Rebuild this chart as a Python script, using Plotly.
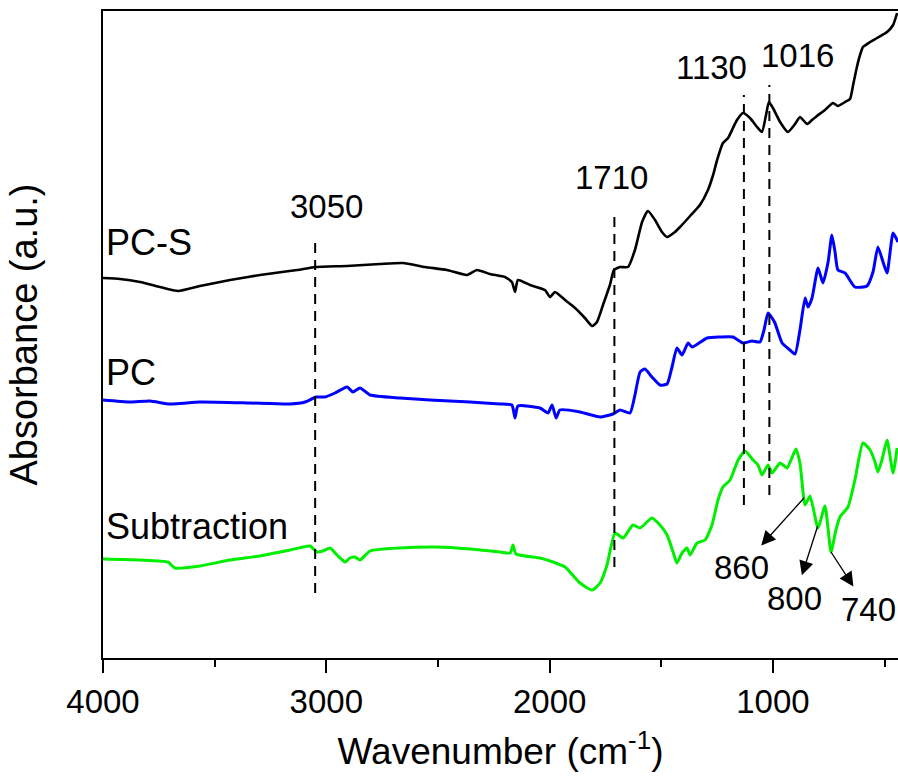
import numpy as np
import plotly.graph_objects as go

# FTIR spectra (wavenumber in cm-1, absorbance in arbitrary units, offset per sample)
pcs_wn = [4000, 3924, 3834, 3745, 3664, 3566, 3431, 3297, 3131, 3046, 2907, 2760, 2657,
          2558, 2460, 2370, 2325, 2267, 2200, 2169, 2155, 2142, 2088, 2021, 1998, 1976,
          1931, 1886, 1842, 1810, 1788, 1761, 1730, 1712, 1685, 1649, 1618, 1586, 1560,
          1528, 1497, 1474, 1439, 1416, 1371, 1327, 1291, 1268, 1250, 1224, 1201, 1179,
          1161, 1134, 1103, 1071, 1049, 1031, 1018, 1000, 968, 933, 901, 879, 847, 825,
          803, 767, 731, 709, 677, 655, 641, 624, 610, 597, 565, 534, 489, 462, 444]
pcs_abs = [3.80, 3.79, 3.76, 3.71, 3.67, 3.72, 3.78, 3.83, 3.88, 3.91, 3.92, 3.94, 3.95,
           3.91, 3.88, 3.83, 3.88, 3.84, 3.81, 3.76, 3.66, 3.78, 3.73, 3.68, 3.61, 3.66,
           3.58, 3.50, 3.40, 3.32, 3.36, 3.53, 3.73, 3.88, 3.91, 3.91, 4.08, 4.36, 4.47,
           4.38, 4.26, 4.21, 4.26, 4.31, 4.42, 4.53, 4.68, 4.83, 4.98, 5.15, 5.20, 5.30,
           5.38, 5.45, 5.40, 5.31, 5.26, 5.43, 5.56, 5.50, 5.36, 5.26, 5.34, 5.41, 5.34, 5.38,
           5.42, 5.48, 5.55, 5.52, 5.56, 5.59, 5.73, 5.91, 6.03, 6.11, 6.16, 6.20, 6.26, 6.33, 6.45]

pc_wn = [4000, 3879, 3790, 3700, 3566, 3342, 3163, 3095, 3046, 3006, 2961, 2907, 2881,
         2849, 2804, 2670, 2536, 2357, 2222, 2169, 2155, 2142, 2043, 2007, 1989, 1971,
         1954, 1864, 1774, 1716, 1685, 1640, 1618, 1595, 1573, 1542, 1506, 1474, 1452,
         1430, 1407, 1380, 1362, 1295, 1237, 1179, 1134, 1094, 1058, 1040, 1022, 1004,
         991, 959, 924, 901, 879, 856, 843, 825, 798, 776, 753, 736, 722, 709, 677, 633,
         579, 552, 530, 507, 489, 462, 440]
pc_abs = [2.58, 2.56, 2.57, 2.54, 2.56, 2.55, 2.54, 2.56, 2.61, 2.61, 2.65, 2.71, 2.66,
          2.70, 2.63, 2.60, 2.58, 2.56, 2.54, 2.53, 2.40, 2.52, 2.50, 2.45, 2.53, 2.40,
          2.48, 2.46, 2.41, 2.44, 2.48, 2.45, 2.63, 2.86, 2.89, 2.81, 2.73, 2.74, 2.91,
          3.10, 3.03, 3.15, 3.11, 3.20, 3.21, 3.21, 3.15, 3.17, 3.16, 3.28, 3.45, 3.40,
          3.35, 3.15, 3.08, 3.04, 3.28, 3.60, 3.51, 3.60, 3.90, 3.75, 3.96, 4.23, 4.06, 3.88,
          3.85, 3.71, 3.72, 3.86, 4.11, 3.96, 3.85, 4.25, 4.16]

sub_wn = [4000, 3834, 3709, 3678, 3566, 3431, 3297, 3163, 3073, 3042, 3015, 2983, 2952,
          2916, 2894, 2872, 2849, 2804, 2670, 2504, 2357, 2222, 2177, 2164, 2151, 2043,
          1985, 1931, 1864, 1810, 1774, 1743, 1707, 1671, 1627, 1595, 1542, 1506, 1474,
          1447, 1430, 1407, 1385, 1371, 1340, 1304, 1273, 1246, 1224, 1192, 1156, 1125,
          1089, 1067, 1049, 1022, 1004, 968, 937, 897, 879, 856, 834, 798, 767, 740, 718,
          700, 664, 633, 597, 565, 543, 530, 512, 489, 462, 444]
sub_abs = [0.99, 0.98, 0.96, 0.90, 0.92, 0.98, 1.02, 1.08, 1.12, 1.06, 1.07, 1.10, 1.03,
           0.96, 1.00, 1.01, 0.98, 1.07, 1.10, 1.11, 1.09, 1.06, 1.05, 1.13, 1.04, 1.00,
           0.96, 0.91, 0.75, 0.68, 0.75, 0.93, 1.25, 1.20, 1.33, 1.30, 1.40, 1.33, 1.23,
           1.06, 0.95, 1.05, 1.10, 1.03, 1.15, 1.18, 1.33, 1.58, 1.71, 1.78, 1.98, 2.07,
           1.98, 1.93, 1.83, 1.93, 1.85, 1.95, 1.90, 2.09, 1.95, 1.53, 1.62, 1.30, 1.52, 1.06, 1.28,
           1.41, 1.51, 1.78, 2.15, 2.08, 1.96, 1.86, 1.98, 2.18, 1.85, 2.10]

# Marked bands
dashed_bands = [3050, 1710, 1130, 1016]
dashed_top = [4.18, 4.45, 5.63, 5.73]
dashed_bottom = [0.65, 0.91, 1.53, 1.63]
band_label_shift = [(11, 0.34), (-3, 0.36), (-32, 0.28), (28, 0.30)]
arrow_bands = [860, 800, 740]

FONT = "Arial, Liberation Sans, sans-serif"
NUM = 33   # numeric labels and ticks
WORD = 36  # sample names
TITLE = 37

fig = go.Figure()
fig.add_trace(go.Scatter(x=pcs_wn, y=pcs_abs, mode="lines", name="PC-S",
                         line=dict(color="#000000", width=2.6, shape="spline", smoothing=0.5)))
fig.add_trace(go.Scatter(x=pc_wn, y=pc_abs, mode="lines", name="PC",
                         line=dict(color="#0000ff", width=3, shape="spline", smoothing=0.5)))
fig.add_trace(go.Scatter(x=sub_wn, y=sub_abs, mode="lines", name="Subtraction",
                         line=dict(color="#00ee00", width=3, shape="spline", smoothing=0.5)))

# dashed band markers with their labels
for wn, top, bot, (dx, dy) in zip(dashed_bands, dashed_top, dashed_bottom, band_label_shift):
    fig.add_shape(type="line", x0=wn, x1=wn, y0=bot, y1=top, xref="x", yref="y",
                  line=dict(color="black", width=2, dash="10px,7px"))
    fig.add_annotation(x=wn, y=top + dy, text=str(wn), showarrow=False, xshift=dx,
                       font=dict(family=FONT, size=NUM, color="black"))

# labelled arrows pointing out the subtraction bands (head at the label side)
label_offsets = [(-63, 70), (-23, 72), (37, 57)]
sub_x = np.array(sub_wn[::-1], dtype=float)
sub_y = np.array(sub_abs[::-1], dtype=float)
for wn, (lx, ly) in zip(arrow_bands, label_offsets):
    yv = float(np.interp(wn, sub_x, sub_y))
    fig.add_annotation(x=wn, y=yv, ax=lx, ay=ly, text=str(wn), showarrow=True,
                       arrowside="start", startarrowhead=2, startarrowsize=2.2,
                       arrowwidth=1.3, arrowcolor="black", standoff=0, startstandoff=3,
                       font=dict(family=FONT, size=NUM, color="black"))

# sample names
for name, yv in [("PC-S", 4.16), ("PC", 2.86), ("Subtraction", 1.32)]:
    fig.add_annotation(x=3995, y=yv, text=name, showarrow=False, xanchor="left",
                       font=dict(family=FONT, size=WORD, color="black"))

fig.update_layout(
    width=898, height=778,
    margin=dict(l=103, r=0, t=11, b=120),
    paper_bgcolor="white", plot_bgcolor="white",
    showlegend=False,
    font=dict(family=FONT, size=NUM, color="black"),
)
fig.update_xaxes(
    range=[4000, 440], autorange=False,
    showgrid=False, zeroline=False,
    showline=True, linecolor="black", linewidth=2, mirror=True,
    ticks="outside", tickwidth=2, ticklen=13, tickcolor="black",
    tickvals=[4000, 3000, 2000, 1000],
    minor=dict(tickvals=[3500, 2500, 1500, 500], ticks="outside", ticklen=7,
               tickwidth=2, tickcolor="black"),
    tickfont=dict(family=FONT, size=NUM),
    title=dict(text="Wavenumber (cm<sup>-1</sup>)", font=dict(family=FONT, size=TITLE),
               standoff=20),
)
fig.update_yaxes(
    range=[0, 6.47], autorange=False,
    showgrid=False, zeroline=False,
    showline=True, linecolor="black", linewidth=2,
    showticklabels=False, ticks="",
    title=dict(text="Absorbance (a.u.)", font=dict(family=FONT, size=38), standoff=52),
)

fig.write_html("out.html")
